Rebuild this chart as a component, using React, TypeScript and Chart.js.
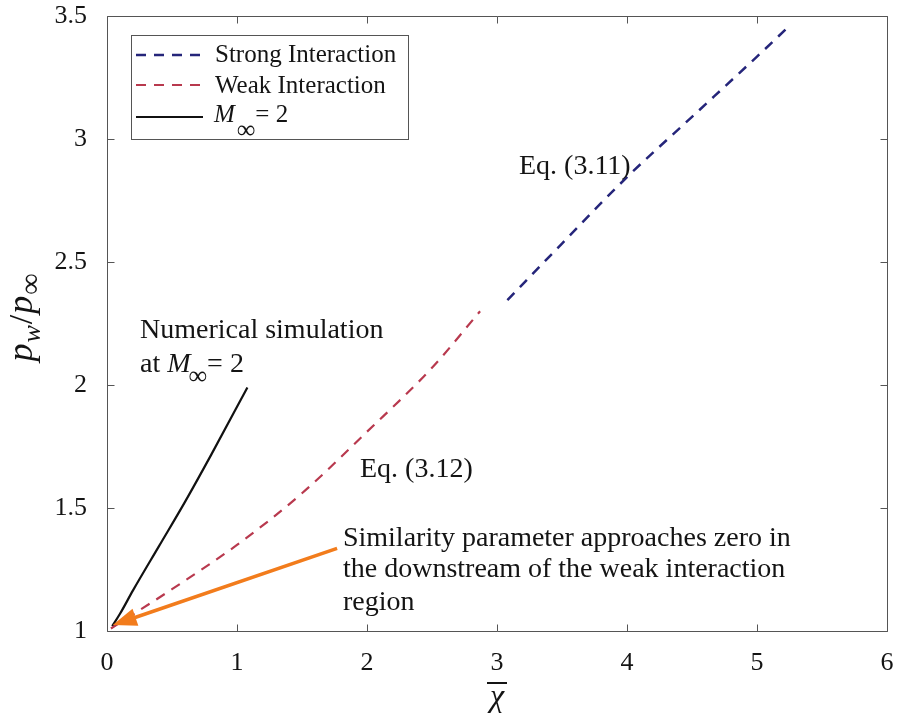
import React, { useEffect, useRef } from 'react';
import { Chart, registerables } from 'chart.js';
Chart.register(...registerables);

// ---- data ----
const strongX = [3.08, 3.5, 4.0, 4.5, 5.0, 5.25];
const strongY = [2.345, 2.575, 2.845, 3.09, 3.335, 3.46];
const weakX = [0.03, 0.5, 1.0, 1.5, 2.0, 2.5, 2.87];
const weakY = [1.01, 1.17, 1.35, 1.56, 1.81, 2.07, 2.3];
const simX = [0.04, 0.1, 0.2, 0.4, 0.6, 0.8, 1.08];
const simY = [1.02, 1.07, 1.165, 1.345, 1.525, 1.715, 1.99];
const seriesLabels = ['Strong Interaction', 'Weak Interaction', 'M∞ = 2'];
const xTicks = [0, 1, 2, 3, 4, 5, 6];
const yTicks = [1, 1.5, 2, 2.5, 3, 3.5];
const arrowFrom = [1.77, 1.336];
const arrowTo = [0.044, 1.024];

const SERIF = "'Liberation Serif', 'Times New Roman', serif";
const TEXT = '#141414';

type Part = { t: string; font: string; dy?: number; gap?: number };
function richWidth(ctx: CanvasRenderingContext2D, parts: Part[]) {
  let w = 0;
  for (const p of parts) { ctx.font = p.font; w += ctx.measureText(p.t).width + (p.gap || 0); }
  return w;
}
function drawRich(ctx: CanvasRenderingContext2D, parts: Part[], x: number, y: number) {
  let cx = x;
  for (const p of parts) {
    ctx.font = p.font;
    ctx.fillText(p.t, cx, y + (p.dy || 0));
    cx += ctx.measureText(p.t).width + (p.gap || 0);
  }
}

const decor = {
  id: 'decor',
  afterDatasetsDraw(chart: any) {
    const { ctx, chartArea: a, scales } = chart;
    const xs = scales.x, ys = scales.y;
    const X = (v: number) => xs.getPixelForValue(v);
    const Y = (v: number) => ys.getPixelForValue(v);
    ctx.save();

    // box + inward ticks
    ctx.strokeStyle = '#555';
    ctx.lineWidth = 1;
    const L = Math.round(a.left) + 0.5, R = Math.round(a.right) + 0.5;
    const T = Math.round(a.top) + 0.5, B = Math.round(a.bottom) + 0.5;
    ctx.beginPath();
    ctx.rect(L, T, R - L, B - T);
    for (const v of xTicks) {
      const px = Math.round(X(v)) + 0.5;
      ctx.moveTo(px, B); ctx.lineTo(px, B - 7);
      ctx.moveTo(px, T); ctx.lineTo(px, T + 7);
    }
    for (const v of yTicks) {
      const py = Math.round(Y(v)) + 0.5;
      ctx.moveTo(L, py); ctx.lineTo(L + 7, py);
      ctx.moveTo(R, py); ctx.lineTo(R - 7, py);
    }
    ctx.stroke();

    // orange arrow
    const x0 = X(arrowFrom[0]), y0 = Y(arrowFrom[1]);
    const x1 = X(arrowTo[0]), y1 = Y(arrowTo[1]);
    const ang = Math.atan2(y1 - y0, x1 - x0);
    const hl = 24, hw = 9;
    const bx = x1 - hl * Math.cos(ang), by = y1 - hl * Math.sin(ang);
    ctx.strokeStyle = '#F27C1C';
    ctx.fillStyle = '#F27C1C';
    ctx.lineWidth = 3.5;
    ctx.beginPath(); ctx.moveTo(x0, y0); ctx.lineTo(bx + 2 * Math.cos(ang), by + 2 * Math.sin(ang)); ctx.stroke();
    ctx.beginPath();
    ctx.moveTo(x1, y1);
    ctx.lineTo(bx + hw * Math.sin(ang), by - hw * Math.cos(ang));
    ctx.lineTo(bx - hw * Math.sin(ang), by + hw * Math.cos(ang));
    ctx.closePath(); ctx.fill();

    // annotations
    ctx.fillStyle = TEXT;
    ctx.textBaseline = 'alphabetic';
    ctx.textAlign = 'left';
    const f28 = `28px ${SERIF}`;
    const f28i = `italic 28px ${SERIF}`;
    ctx.font = f28;
    ctx.fillText('Numerical simulation', X(0.254), Y(2.19));
    drawRich(ctx, [
      { t: 'at ', font: f28 },
      { t: 'M', font: f28i, gap: -2 },
      { t: '∞', font: `26px ${SERIF}`, dy: 12 },
      { t: '= 2', font: f28 },
    ], X(0.254), Y(2.054));
    ctx.font = f28;
    ctx.fillText('Eq. (3.12)', X(1.946), Y(1.627));
    ctx.fillText('Eq. (3.11)', X(3.169), Y(2.858));
    ctx.fillText('Similarity parameter approaches zero in', X(1.815), Y(1.347));
    ctx.fillText('the downstream of the weak interaction', X(1.815), Y(1.22));
    ctx.fillText('region', X(1.815), Y(1.085));

    // legend
    const lx = a.left + 24, ly = a.top + 19, lw = 277, lh = 104;
    ctx.fillStyle = '#fff';
    ctx.fillRect(lx, ly, lw, lh);
    ctx.strokeStyle = '#555';
    ctx.lineWidth = 1;
    ctx.strokeRect(Math.round(lx) + 0.5, Math.round(ly) + 0.5, lw, lh);
    const rows = [20, 50, 82];
    const base = [27, 58, 87];
    chart.data.datasets.forEach((ds: any, i: number) => {
      ctx.strokeStyle = ds.borderColor;
      ctx.lineWidth = ds.borderWidth;
      ctx.setLineDash(ds.borderDash || []);
      ctx.beginPath();
      ctx.moveTo(lx + 5, ly + rows[i]);
      ctx.lineTo(lx + 72, ly + rows[i]);
      ctx.stroke();
      ctx.setLineDash([]);
      ctx.fillStyle = TEXT;
      const lab: string = ds.label;
      if (lab.startsWith('M∞')) {
        drawRich(ctx, [
          { t: 'M', font: `italic 25px ${SERIF}`, gap: 2 },
          { t: '∞', font: `26px ${SERIF}`, dy: 16 },
          { t: lab.slice(2).trim(), font: `25px ${SERIF}` },
        ], lx + 83, ly + base[i]);
      } else {
        ctx.font = `25px ${SERIF}`;
        ctx.fillText(lab, lx + 84, ly + base[i]);
      }
    });

    // y axis title: p_w / p_inf (rotated)
    ctx.fillStyle = TEXT;
    const yParts: Part[] = [
      { t: 'p', font: `italic 36px ${SERIF}`, gap: 1 },
      { t: 'w', font: `italic 26px ${SERIF}`, dy: 8, gap: 1 },
      { t: '/', font: `34px ${SERIF}`, gap: 1 },
      { t: 'p', font: `italic 36px ${SERIF}`, gap: 1 },
      { t: '∞', font: `30px ${SERIF}`, dy: 8 },
    ];
    const yw = richWidth(ctx, yParts);
    ctx.save();
    ctx.translate(32, (a.top + a.bottom) / 2 - 6);
    ctx.rotate(-Math.PI / 2);
    drawRich(ctx, yParts, -yw / 2, 0);
    ctx.restore();

    // x axis title: chi with overbar
    const cx = (a.left + a.right) / 2;
    ctx.font = `italic 32px ${SERIF}`;
    ctx.textAlign = 'center';
    ctx.fillText('χ', cx, 706);
    ctx.strokeStyle = TEXT;
    ctx.lineWidth = 2;
    ctx.beginPath();
    ctx.moveTo(cx - 10, 683);
    ctx.lineTo(cx + 10, 683);
    ctx.stroke();

    ctx.restore();
  },
};

function toPts(xs: number[], ys: number[]) {
  return xs.map((x, i) => ({ x, y: ys[i] }));
}

export default function App() {
  const ref = useRef<HTMLCanvasElement>(null);
  useEffect(() => {
    if (!ref.current) return;
    const noPad = (s: any) => { s.paddingLeft = 0; s.paddingRight = 0; s.paddingTop = 0; s.paddingBottom = 0; };
    const common = { pointRadius: 0, cubicInterpolationMode: 'monotone' as const, fill: false };
    const chart = new Chart(ref.current, {
      type: 'line',
      data: {
        datasets: [
          { label: seriesLabels[0], data: toPts(strongX, strongY), borderColor: '#25257A', borderWidth: 2.5, borderDash: [10, 8], ...common },
          { label: seriesLabels[1], data: toPts(weakX, weakY), borderColor: '#B8394E', borderWidth: 2.2, borderDash: [10, 8], ...common },
          { label: seriesLabels[2], data: toPts(simX, simY), borderColor: '#111111', borderWidth: 2.2, ...common },
        ],
      },
      options: {
        animation: false,
        responsive: true,
        maintainAspectRatio: false,
        layout: { padding: { top: 16, right: 12, left: 0, bottom: 0 } },
        plugins: { legend: { display: false }, tooltip: { enabled: false } },
        scales: {
          x: {
            type: 'linear', min: 0, max: 6,
            afterBuildTicks: (s: any) => { s.ticks = xTicks.map((v) => ({ value: v })); },
            afterFit: (s: any) => { s.height = 88; noPad(s); },
            grid: { display: false }, border: { display: false },
            ticks: { color: TEXT, font: { family: SERIF, size: 26 }, padding: 9, maxRotation: 0, callback: (v: any) => String(v) },
          },
          y: {
            type: 'linear', min: 1, max: 3.5,
            afterBuildTicks: (s: any) => { s.ticks = yTicks.map((v) => ({ value: v })); },
            afterFit: (s: any) => { s.width = 107; noPad(s); },
            grid: { display: false }, border: { display: false },
            ticks: { color: TEXT, font: { family: SERIF, size: 26 }, padding: 12, callback: (v: any) => String(v) },
          },
        },
      },
      plugins: [decor],
    });
    return () => chart.destroy();
  }, []);
  return (
    <div style={{ position: 'fixed', left: 0, top: 0, width: 899, height: 719, background: '#fff' }}>
      <canvas ref={ref} />
    </div>
  );
}
